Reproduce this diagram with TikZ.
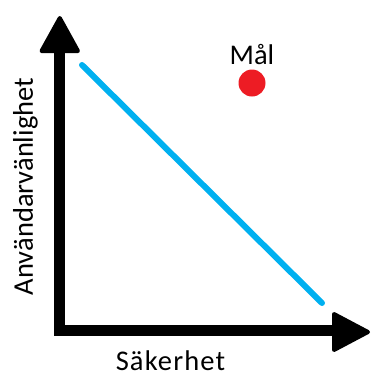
\documentclass[tikz,border=0pt]{standalone}
\usepackage{fontspec}
\setmainfont{Carlito}
\begin{document}
\begin{tikzpicture}[x=1pt,y=-1pt,
  axis/.style={line width=11pt,line join=miter},
  head/.style={fill=black,draw=black,line width=4pt,line join=round},
  trend/.style={line width=6pt,color=trendblue,line cap=round},
  lbl/.style={font=\fontsize{28.5}{30}\selectfont,inner sep=0pt}]
\definecolor{trendblue}{HTML}{00B0F0}
\definecolor{goalred}{HTML}{ED1C24}
\useasboundingbox (0,0) rectangle (371,373);
\coordinate (ytop) at (59.5,53);
\coordinate (origin) at (59.5,330.5);
\coordinate (xend) at (332,330.5);
\draw[axis] (ytop) -- (origin) -- (xend);
\draw[head] (41.5,51) -- (78,51) -- (59.8,18) -- cycle;
\draw[head] (334,314) -- (334,350) -- (368,332) -- cycle;
\coordinate (lstart) at (82,65);
\coordinate (lend) at (322,303);
\draw[trend] (lstart) -- (lend);
\node[circle,fill=goalred,minimum size=27pt,inner sep=0pt] (goal) at (252,83) {};
\node[lbl,anchor=base] (goallbl) at (252,64) {Mål};
\node[lbl,anchor=base] (xlbl) at (170.5,370.5) {\addfontfeature{LetterSpace=4}Säkerhet};
\node[lbl,anchor=base,rotate=90] (ylbl) at (33,186.5) {Användarvänlighet};
\end{tikzpicture}
\end{document}
